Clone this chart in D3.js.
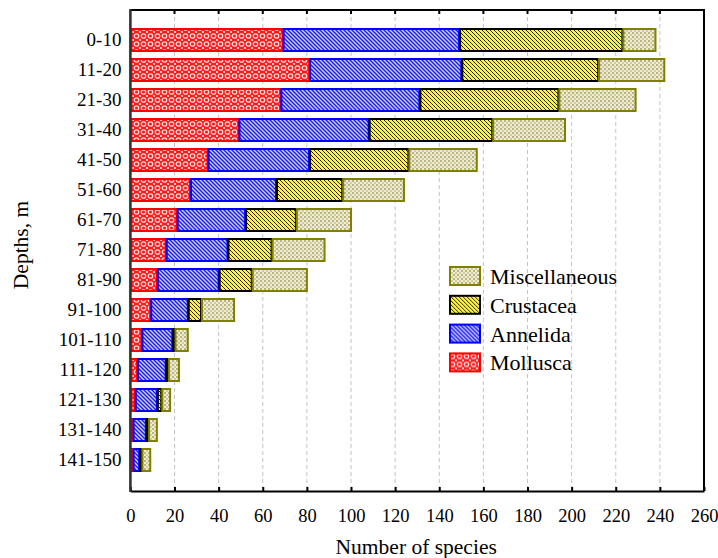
<!DOCTYPE html>
<html>
<head>
<meta charset="utf-8">
<script src="https://cdn.jsdelivr.net/npm/d3@7"></script>
<style>
  html, body { margin: 0; padding: 0; background: #fff; }
  svg { display: block; }
  text { font-family: "Liberation Serif", "Times New Roman", serif; fill: #000; }
</style>
</head>
<body>
<svg id="chart" width="718" height="558"></svg>
<script>
// Depth bands (m)
const depths = ["0-10", "11-20", "21-30", "31-40", "41-50", "51-60", "61-70", "71-80",
  "81-90", "91-100", "101-110", "111-120", "121-130", "131-140", "141-150"];

// Number of species per taxonomic group in each depth band
const mollusca      = [69, 81, 68, 49, 35, 27, 21, 16, 12, 9, 5, 3, 2, 1, 1];
const annelida      = [80, 69, 63, 59, 46, 39, 31, 28, 28, 17, 14, 13, 10, 6, 3];
const crustacea     = [74, 62, 63, 56, 45, 30, 23, 20, 15, 6, 1, 1, 2, 1, 1];
const miscellaneous = [15, 30, 35, 33, 31, 28, 25, 24, 25, 15, 6, 5, 4, 4, 4];

const groups = ["Mollusca", "Annelida", "Crustacea", "Miscellaneous"];
const xTicks = d3.range(0, 261, 20);

const table = depths.map((d, i) => ({
  depth: d,
  Mollusca: mollusca[i],
  Annelida: annelida[i],
  Crustacea: crustacea[i],
  Miscellaneous: miscellaneous[i]
}));

const svg = d3.select("#chart");
const plot = { left: 130.4, right: 704, top: 10, bottom: 491 };

const x = d3.scaleLinear().domain([0, 260]).range([plot.left, plot.right]);
const y = d3.scaleBand().domain(depths).range([25, 475]).paddingInner(0.2).paddingOuter(0.1);

// Fill patterns for each group
const defs = svg.append("defs");

const pMoll = defs.append("pattern").attr("id", "pat-Mollusca")
  .attr("patternUnits", "userSpaceOnUse").attr("width", 7).attr("height", 8);
pMoll.append("rect").attr("width", 7).attr("height", 8).attr("fill", "#ff1a1a");
pMoll.append("circle").attr("cx", 3.5).attr("cy", 4).attr("r", 2.2)
  .attr("fill", "none").attr("stroke", "#ffd8d8").attr("stroke-width", 1.3);
pMoll.append("circle").attr("cx", 0).attr("cy", 0).attr("r", 1.1).attr("fill", "#fff0f0");
pMoll.append("circle").attr("cx", 7).attr("cy", 0).attr("r", 1.1).attr("fill", "#fff0f0");
pMoll.append("circle").attr("cx", 0).attr("cy", 8).attr("r", 1.1).attr("fill", "#fff0f0");
pMoll.append("circle").attr("cx", 7).attr("cy", 8).attr("r", 1.1).attr("fill", "#fff0f0");

const pAnn = defs.append("pattern").attr("id", "pat-Annelida")
  .attr("patternUnits", "userSpaceOnUse").attr("width", 4).attr("height", 4);
pAnn.append("rect").attr("width", 4).attr("height", 4).attr("fill", "#1a1aff");
pAnn.append("path").attr("d", "M-1,-1 L5,5 M-1,3 L1,5 M3,-1 L5,1")
  .attr("stroke", "#d0d0ff").attr("stroke-width", 1.4);

const pCru = defs.append("pattern").attr("id", "pat-Crustacea")
  .attr("patternUnits", "userSpaceOnUse").attr("width", 4).attr("height", 4);
pCru.append("rect").attr("width", 4).attr("height", 4).attr("fill", "#ffff00");
pCru.append("path").attr("d", "M-1,-1 L5,5 M-1,3 L1,5 M3,-1 L5,1")
  .attr("stroke", "#000").attr("stroke-width", 0.9);

const pMis = defs.append("pattern").attr("id", "pat-Miscellaneous")
  .attr("patternUnits", "userSpaceOnUse").attr("width", 4).attr("height", 4);
pMis.append("rect").attr("width", 4).attr("height", 4).attr("fill", "#eeecd6");
pMis.append("rect").attr("x", 0).attr("y", 0).attr("width", 2).attr("height", 2).attr("fill", "#b8b47a");
pMis.append("rect").attr("x", 2).attr("y", 2).attr("width", 2).attr("height", 2).attr("fill", "#cfcb9c");

const borders = { Mollusca: "#ff0000", Annelida: "#0000ff", Crustacea: "#000000", Miscellaneous: "#808000" };

// Dashed vertical grid lines
svg.append("g").selectAll("line")
  .data(xTicks.filter(t => t > 0 && t < 260))
  .join("line")
  .attr("x1", d => x(d)).attr("x2", d => x(d))
  .attr("y1", plot.top).attr("y2", plot.bottom)
  .attr("stroke", "#c4c4c4").attr("stroke-width", 1)
  .attr("stroke-dasharray", "4,3");

// Stacked bars
const series = d3.stack().keys(groups)(table);
svg.append("g").selectAll("g")
  .data(series)
  .join("g")
  .attr("fill", s => `url(#pat-${s.key})`)
  .attr("stroke", s => borders[s.key])
  .attr("stroke-width", 2)
  .selectAll("rect")
  .data(s => s)
  .join("rect")
  .attr("x", d => x(d[0]) + 1)
  .attr("y", d => y(d.data.depth) + 1)
  .attr("width", d => Math.max(0, x(d[1]) - x(d[0]) - 1))
  .attr("height", y.bandwidth() - 2);

// Frame: top and right edges
svg.append("path")
  .attr("d", `M${plot.left},${plot.top} H${plot.right} V${plot.bottom}`)
  .attr("fill", "none").attr("stroke", "#000").attr("stroke-width", 2);

// Bottom axis with inward ticks
const xAxis = svg.append("g").attr("transform", `translate(0,${plot.bottom})`)
  .call(d3.axisBottom(x).tickValues(xTicks).tickSizeInner(-4).tickSizeOuter(0).tickPadding(18));
xAxis.select(".domain").attr("stroke", "#000").attr("stroke-width", 2.2);
xAxis.selectAll(".tick line").attr("stroke", "#000").attr("stroke-width", 2);
xAxis.selectAll(".tick text")
  .style("font-family", '"Liberation Serif", "Times New Roman", serif')
  .style("font-size", "18.5px").attr("fill", "#000");

// Top edge ticks
svg.append("g").selectAll("line")
  .data(xTicks.filter(t => t > 0 && t < 260))
  .join("line")
  .attr("x1", d => x(d)).attr("x2", d => x(d))
  .attr("y1", plot.top).attr("y2", plot.top + 4)
  .attr("stroke", "#000").attr("stroke-width", 2);

// Left axis with depth labels
const yAxis = svg.append("g").attr("transform", `translate(${plot.left},0)`)
  .call(d3.axisLeft(y).tickSize(0).tickPadding(9));
yAxis.select(".domain").remove();
yAxis.selectAll(".tick text")
  .style("font-family", '"Liberation Serif", "Times New Roman", serif')
  .style("font-size", "19px").attr("fill", "#000");
svg.append("line")
  .attr("x1", plot.left).attr("x2", plot.left)
  .attr("y1", plot.top - 1).attr("y2", plot.bottom + 1)
  .attr("stroke", "#333").attr("stroke-width", 2.6);

// Axis titles
svg.append("text")
  .attr("x", (plot.left + plot.right) / 2 - 1).attr("y", 554)
  .attr("text-anchor", "middle").style("font-size", "21.5px")
  .text("Number of species");
svg.append("text")
  .attr("transform", "translate(28,245) rotate(-90)")
  .attr("text-anchor", "middle").style("font-size", "21.5px")
  .text("Depths, m");

// Legend
const legend = svg.append("g").attr("transform", "translate(449,266)");
const legendItems = groups.slice().reverse();
const li = legend.selectAll("g").data(legendItems).join("g")
  .attr("transform", (d, i) => `translate(0,${i * 28.8})`);
li.append("rect")
  .attr("x", 1).attr("y", 1).attr("width", 30).attr("height", 18)
  .attr("fill", d => `url(#pat-${d})`)
  .attr("stroke", d => borders[d]).attr("stroke-width", 2);
li.append("text")
  .attr("x", 41).attr("y", 18)
  .style("font-size", "22px")
  .text(d => d);
</script>
</body>
</html>
